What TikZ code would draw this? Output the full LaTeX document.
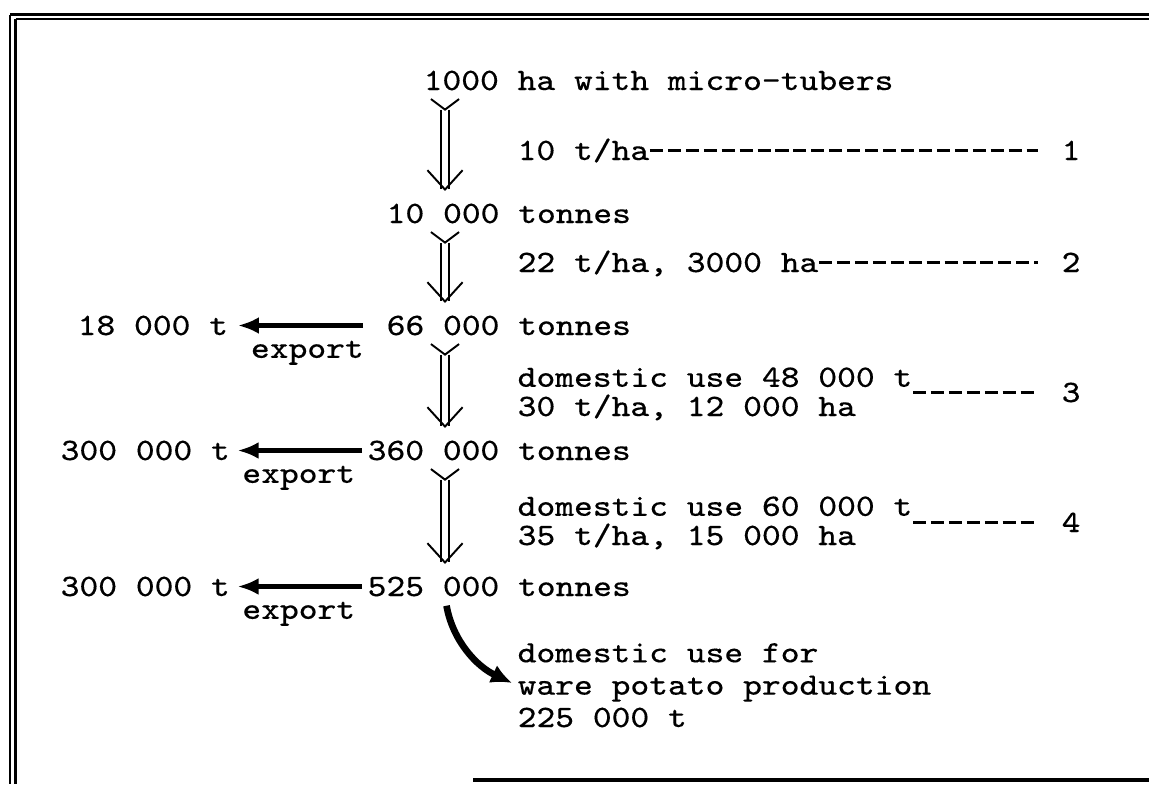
\documentclass[tikz,border=0pt]{standalone}
\usepackage{fontspec}
\newfontfamily\tw{Latin Modern Mono}[FakeStretch=1.15,FakeBold=0.25]
\usetikzlibrary{arrows.meta}

\tikzset{
    txt/.style={anchor=base west, inner sep=0pt, align=left},
    pass/.style={double, double distance=1.6pt, line width=0.55pt, shorten <=2pt, shorten >=3.4pt,
        {Straight Barb[reversed, length=3pt, width=8pt]}-{Straight Barb[length=5.5pt, width=10pt]}},
    export/.style={line width=1.4pt, -{Latex[length=6pt, width=4.8pt]}},
    turn/.style={line width=1.9pt, -{Latex[length=6pt, width=5.5pt]}},
    leader/.style={line width=0.7pt, dash pattern=on 3.7pt off 1.4pt, shorten >=6.5pt},
    lab/.style={inner sep=0pt, below=3.6pt}
}

\begin{document}
\begin{tikzpicture}[x=0.01cm, y=0.01cm, font=\tw\fontsize{8.85}{8.3}\selectfont]
    \useasboundingbox (0,0) rectangle (1149,-784);

    % frame, double on top and left
    \draw[line width=0.85pt] (10,-14.5) -- (1149,-14.5);
    \draw[line width=0.7pt] (15.5,-19) -- (1149,-19);
    \draw[line width=0.85pt] (10,-14.5) -- (10,-784);
    \draw[line width=0.7pt] (15.5,-19) -- (15.5,-784);
    \draw[line width=0.9pt] (473,-780) -- (1149,-780);

    % main column
    \coordinate (col) at (445,0);
    \node[txt] (ha) at (423,-90) {1000 ha with micro-tubers};
    \node[txt] (t10) at (386,-223) {10 000 tonnes};
    \node[txt] (t66) at (386,-335) {66 000 tonnes};
    \node[txt] (t360) at (367,-460) {360 000 tonnes};
    \node[txt] (t525) at (367,-596) {525 000 tonnes};

    \draw[pass] (col |- ha.south) -- (col |- t10.north);
    \draw[pass] (col |- t10.south) -- (col |- t66.north);
    \draw[pass] (col |- t66.south) -- (col |- t360.north);
    \draw[pass] (col |- t360.south) -- (col |- t525.north);

    % yields and areas (base = last line)
    \node[txt] (r1) at (517,-160) {10 t/ha};
    \node[txt] (r2) at (517,-272) {22 t/ha, 3000 ha};
    \node[txt] (r3) at (517,-416) {domestic use 48 000 t\\30 t/ha, 12 000 ha};
    \node[txt] (r4) at (517,-545) {domestic use 60 000 t\\35 t/ha, 15 000 ha};
    \node[txt] (k1) at (1061,-160) {1};
    \node[txt] (k2) at (1061,-272) {2};
    \node[txt] (k3) at (1061,-402) {3};
    \node[txt] (k4) at (1061,-532) {4};

    \draw[leader] (r1.east |- k1.west) -- (k1.west);
    \draw[leader] (r2.east |- k2.west) -- (k2.west);
    \draw[leader] (r3.east |- k3.west) -- (k3.west);
    \draw[leader] (r4.east |- k4.west) -- (k4.west);

    % exports on the left
    \node[txt] (x18) at (77,-335) {18 000 t};
    \node[txt] (x300a) at (60,-460) {300 000 t};
    \node[txt] (x300b) at (60,-596) {300 000 t};

    \draw[export, shorten <=6.5pt, shorten >=2.6pt] (t66.west) -- node[lab] (e1) {export} (x18.east);
    \draw[export, shorten <=1.4pt, shorten >=2pt] (t360.west) -- node[lab] (e2) {export} (x300a.east);
    \draw[export, shorten <=1.4pt, shorten >=2pt] (t525.west) -- node[lab] (e3) {export} (x300b.east);

    % ware potatoes
    \node[txt, font=\tw\fontsize{8.85}{9.2}\selectfont] (ware) at (517,-727)
        {domestic use for\\ware potato production\\225 000 t};
    \draw[turn, shorten <=2.5pt, shorten >=1.5pt] (col |- t525.south) to[out=-80, in=155] (ware.west);
\end{tikzpicture}
\end{document}
